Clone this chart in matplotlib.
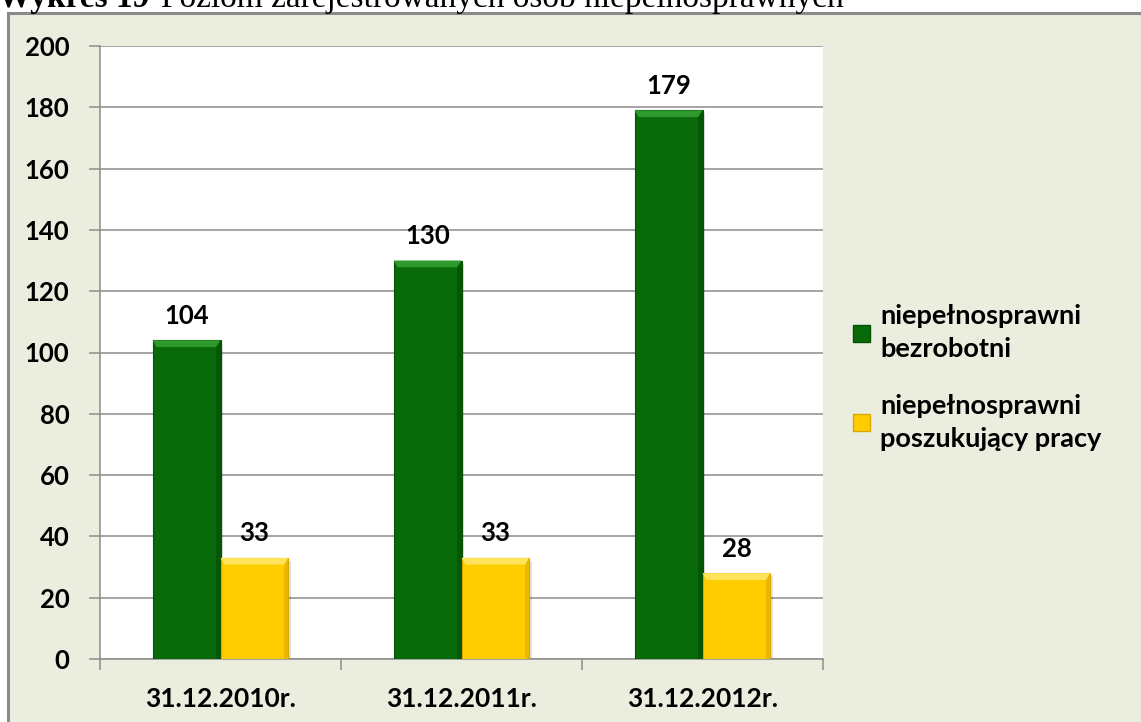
import matplotlib
matplotlib.use("Agg")
import matplotlib.pyplot as plt
from matplotlib.patches import Rectangle, Polygon, Patch
import numpy as np

categories = ["31.12.2010r.", "31.12.2011r.", "31.12.2012r."]
series_names = ["niepełnosprawni\nbezrobotni", "niepełnosprawni\nposzukujący pracy"]
bezrobotni = [104, 130, 179]
poszukujacy = [33, 33, 28]
y_ticks = [0, 20, 40, 60, 80, 100, 120, 140, 160, 180, 200]
title_text = "Poziom zarejestrowanych osób niepełnosprawnych"
title_prefix = "Wykres 19"

GREEN = "#086A08"
YELLOW = "#FFCC00"
BG = "#EBEEDE"
FONT = "Lato"
FS = 18.5

W, H = 1141, 722
fig = plt.figure(figsize=(W / 100, H / 100), dpi=100)
fig.patch.set_facecolor("white")

# chart frame
frame = Rectangle((8 / W, -0.01), 1.0, 1 - 13 / H + 0.01, transform=fig.transFigure,
                  facecolor=BG, edgecolor="#8A8A8A", linewidth=2.2, zorder=-5)
fig.patches.append(frame)

# cut-off caption at the very top
renderer = fig.canvas.get_renderer()
t1 = fig.text(-2 / W, 1 - 7 / H, title_prefix, fontsize=24, fontweight="bold",
              family="Liberation Serif", va="baseline", ha="left")
bb = t1.get_window_extent(renderer)
fig.text((bb.x1 + 12) / W, 1 - 7 / H, title_text, fontsize=24,
         family="Liberation Serif", va="baseline", ha="left")

ax = fig.add_axes([100 / W, 1 - 659 / H, (823 - 100) / W, (659 - 46) / H])
ax.set_facecolor("white")

x = np.arange(len(categories))
bw = 0.282
b1 = ax.bar(x - bw / 2, bezrobotni, width=bw, color=GREEN, edgecolor="#055205",
            linewidth=0.8, zorder=3)
b2 = ax.bar(x + bw / 2, poszukujacy, width=bw, color=YELLOW, edgecolor="#D9A800",
            linewidth=0.8, zorder=3)

# bevel / highlight effect from the bars' own geometry
def bevel(bars, light, dark):
    for b in bars:
        x0, w, h = b.get_x(), b.get_width(), b.get_height()
        d = 0.06 * w
        dy = 2.2  # data units
        top = Polygon([[x0, h], [x0 + w, h], [x0 + w - d, h - dy], [x0 + d, h - dy]],
                      closed=True, facecolor=light, edgecolor="none", zorder=4)
        ax.add_patch(top)
        right = Polygon([[x0 + w, h], [x0 + w, 0], [x0 + w - d, 0], [x0 + w - d, h - dy]],
                        closed=True, facecolor=dark, edgecolor="none", zorder=4, alpha=0.6)
        ax.add_patch(right)
        sh = Rectangle((x0 + w, 0), 0.012, h - 1, facecolor="#000000", alpha=0.12,
                       edgecolor="none", zorder=2)
        ax.add_patch(sh)

bevel(b1, "#2E9A2E", "#044A04")
bevel(b2, "#FFE35A", "#E0AA00")

for bars, vals in ((b1, bezrobotni), (b2, poszukujacy)):
    for b, v in zip(bars, vals):
        ax.annotate(str(v), (b.get_x() + b.get_width() / 2, v), xytext=(0, 9),
                    textcoords="offset points", ha="center", va="bottom",
                    fontsize=FS, family=FONT, fontweight="bold", color="black", zorder=5)

ax.set_ylim(0, 200)
ax.set_xlim(-0.5, len(categories) - 0.5)
ax.set_yticks(y_ticks)
ax.set_yticklabels([str(t) for t in y_ticks], fontsize=FS, family=FONT, fontweight="bold")
ax.yaxis.grid(True, color="#8C8C8C", linewidth=1.1, zorder=0)
ax.set_axisbelow(True)

ax.set_xticks(x)
ax.set_xticklabels(categories, fontsize=FS + 0.5, family=FONT, fontweight="bold")
ax.set_xticks(np.arange(len(categories) + 1) - 0.5, minor=True)
ax.tick_params(axis="x", which="major", length=0, pad=20)
ax.tick_params(axis="x", which="minor", length=8, color="#8C8C8C", width=1.1)
ax.tick_params(axis="y", length=8, color="#8C8C8C", width=1.1, pad=14)

for s in ("top", "right"):
    ax.spines[s].set_visible(False)
for s in ("left", "bottom"):
    ax.spines[s].set_color("#8C8C8C")
    ax.spines[s].set_linewidth(1.1)

handles = [Patch(facecolor=GREEN, edgecolor="#055205"),
           Patch(facecolor=YELLOW, edgecolor="#D9A800")]
leg = fig.legend(handles, series_names, loc="upper left",
                 bbox_to_anchor=(829 / W, 1 - 280 / H), frameon=False,
                 prop={"family": FONT, "size": 19.5, "weight": "bold"},
                 handlelength=0.6, handleheight=0.6, handletextpad=0.4,
                 labelspacing=1.2)
for t in leg.get_texts():
    t.set_linespacing(1.45)

fig.savefig("out.png", dpi=100, facecolor=fig.get_facecolor())
